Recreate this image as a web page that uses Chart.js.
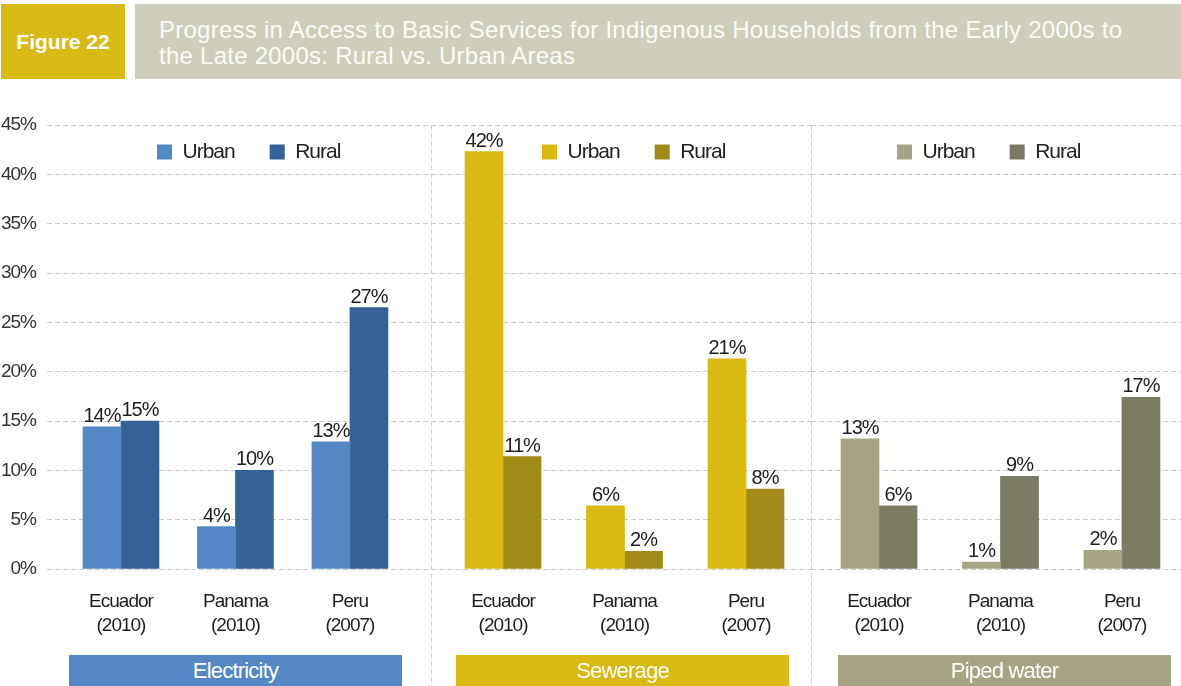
<!DOCTYPE html>
<html>
<head>
<meta charset="utf-8">
<script src="https://cdn.jsdelivr.net/npm/chart.js@4.4.1/dist/chart.umd.min.js"></script>
<style>
  html, body { margin: 0; padding: 0; background: #ffffff; }
  #page { position: relative; width: 1181px; height: 686px; overflow: hidden; }
  .fig { position: absolute; left: 1px; top: 4px; width: 124px; height: 75px; background: #d9b913;
         color: #ffffff; font: bold 21px "Liberation Sans", Arial, sans-serif;
         display: flex; align-items: center; justify-content: center; }
  .title { position: absolute; left: 135px; top: 4px; width: 1022px; height: 62px; padding: 13px 0 0 24px;
           background: #cfcdbc; color: #fbfbf6; letter-spacing: 0.25px;
           font: 24px/26px "Liberation Sans", Arial, sans-serif; }
  canvas { position: absolute; top: 59px; }
  #c1 { left: 0; }
  #c2 { left: 431px; }
  #c3 { left: 811px; }
  .tag { position: absolute; top: 655px; height: 31px; width: 333px; color: #ffffff; text-align: center;
         letter-spacing: -0.8px; font: 22px/31px "Liberation Sans", Arial, sans-serif; }
</style>
</head>
<body>
<div id="page">
  <div class="fig">Figure 22</div>
  <div class="title">Progress in Access to Basic Services for Indigenous Households from the Early 2000s to<br>the Late 2000s: Rural vs. Urban Areas</div>
  <canvas id="c1" width="431" height="627"></canvas>
  <canvas id="c2" width="380" height="627"></canvas>
  <canvas id="c3" width="370" height="627"></canvas>
  <div class="tag" style="left:69px;background:#5388c4;">Electricity</div>
  <div class="tag" style="left:456px;background:#d9b912;">Sewerage</div>
  <div class="tag" style="left:838px;background:#a6a485;">Piped water</div>
</div>
<script>
// Countries (with survey year) shown under each group of bars
const countries = [['Ecuador', '(2010)'], ['Panama', '(2010)'], ['Peru', '(2007)']];
const seriesNames = ['Urban', 'Rural'];

// Change in access (percentage points), early 2000s to late 2000s
const electricityUrban = [14.4, 4.3, 12.9];
const electricityRural = [15.0, 10.0, 26.5];
const sewerageUrban = [42.3, 6.4, 21.3];
const sewerageRural = [11.4, 1.8, 8.1];
const waterUrban = [13.2, 0.7, 1.9];
const waterRural = [6.4, 9.4, 17.4];

// Value axis
const yMin = 0;
const yMax = 45;
const yStep = 5;

const FONT = '"Liberation Sans", Arial, sans-serif';
Chart.defaults.font.family = FONT;

// Tighter letter spacing for all chart text (narrow look)
const tightText = {
  id: 'tightText',
  beforeUpdate(chart) { chart.ctx.letterSpacing = '-1px'; },
  beforeDraw(chart) { chart.ctx.letterSpacing = '-1px'; }
};

// Percentage printed above every bar
const valueLabels = {
  id: 'valueLabels',
  afterDatasetsDraw(chart) {
    const ctx = chart.ctx;
    ctx.save();
    ctx.font = '20px ' + FONT;
    ctx.fillStyle = '#1e1e1e';
    ctx.textAlign = 'center';
    ctx.textBaseline = 'alphabetic';
    chart.data.datasets.forEach((ds, di) => {
      chart.getDatasetMeta(di).data.forEach((bar, i) => {
        ctx.fillText(Math.round(ds.data[i].y) + '%', bar.x, bar.y - 5);
      });
    });
    ctx.restore();
  }
};

// Moves the legend down into the plot area
const legendPlace = {
  id: 'legendPlace',
  afterUpdate(chart, args, opts) {
    const lg = chart.legend;
    const h = lg.height;
    lg.top = chart.chartArea.top + opts.dy;
    lg.bottom = lg.top + h;
    lg.left += opts.dx;
    lg.right += opts.dx;
  }
};

// Dashed vertical rule separating the service panels
const divider = {
  id: 'divider',
  beforeDatasetsDraw(chart, args, opts) {
    if (!opts.show) return;
    const ctx = chart.ctx;
    ctx.save();
    ctx.strokeStyle = '#cccccc';
    ctx.lineWidth = 1;
    ctx.setLineDash([5, 3]);
    ctx.beginPath();
    ctx.moveTo(0.5, chart.chartArea.top);
    ctx.lineTo(0.5, chart.height);
    ctx.stroke();
    ctx.restore();
  }
};

function points(values) {
  return values.map((v, i) => ({ x: i, y: v }));
}

function makePanel(id, urban, rural, colors, cfg) {
  new Chart(document.getElementById(id), {
    type: 'bar',
    data: {
      datasets: [
        { label: seriesNames[0], data: points(urban), backgroundColor: colors[0], borderWidth: 0 },
        { label: seriesNames[1], data: points(rural), backgroundColor: colors[1], borderWidth: 0 }
      ]
    },
    options: {
      responsive: false,
      animation: false,
      devicePixelRatio: 1,
      barThickness: 38,
      layout: { padding: 0 },
      plugins: {
        tooltip: { enabled: false },
        legend: {
          position: 'top',
          align: 'start',
          labels: {
            boxWidth: 15, boxHeight: 15, padding: 35, color: '#222222',
            font: { size: 21, family: FONT }
          }
        },
        legendPlace: { dx: cfg.legendDx, dy: -18.5 },
        divider: { show: cfg.divider }
      },
      scales: {
        x: {
          type: 'linear',
          min: cfg.xMin,
          max: cfg.xMax,
          offset: false,
          grid: { display: false },
          border: { display: false },
          ticks: {
            stepSize: 1,
            includeBounds: false,
            autoSkip: false,
            maxRotation: 0,
            padding: 12,
            color: '#1e1e1e',
            font: { size: 19, lineHeight: 1.3 },
            callback: v => Number.isInteger(v) ? countries[v] : ''
          },
          afterFit: s => { s.height = 117; }
        },
        y: {
          min: yMin,
          max: yMax,
          ticks: {
            stepSize: yStep,
            display: cfg.showY,
            padding: 11,
            color: '#333333',
            font: { size: 19 },
            callback: v => v + '%'
          },
          grid: { color: '#cccccc', lineWidth: 1, drawTicks: false },
          border: { display: false, dash: [5, 3] },
          afterFit: s => { s.width = cfg.showY ? 47 : 0; }
        }
      }
    },
    plugins: [tightText, valueLabels, legendPlace, divider]
  });
}

makePanel('c1', electricityUrban, electricityRural, ['#5388c4', '#346296'],
  { showY: true, xMin: -0.646, xMax: 2.708, legendDx: 122, divider: false });
makePanel('c2', sewerageUrban, sewerageRural, ['#d9b912', '#a28a18'],
  { showY: false, xMin: -0.593, xMax: 2.535, legendDx: 76, divider: true });
makePanel('c3', waterUrban, waterRural, ['#a6a485', '#7a7b62'],
  { showY: false, xMin: -0.560, xMax: 2.486, legendDx: 51, divider: true });
</script>
</body>
</html>
